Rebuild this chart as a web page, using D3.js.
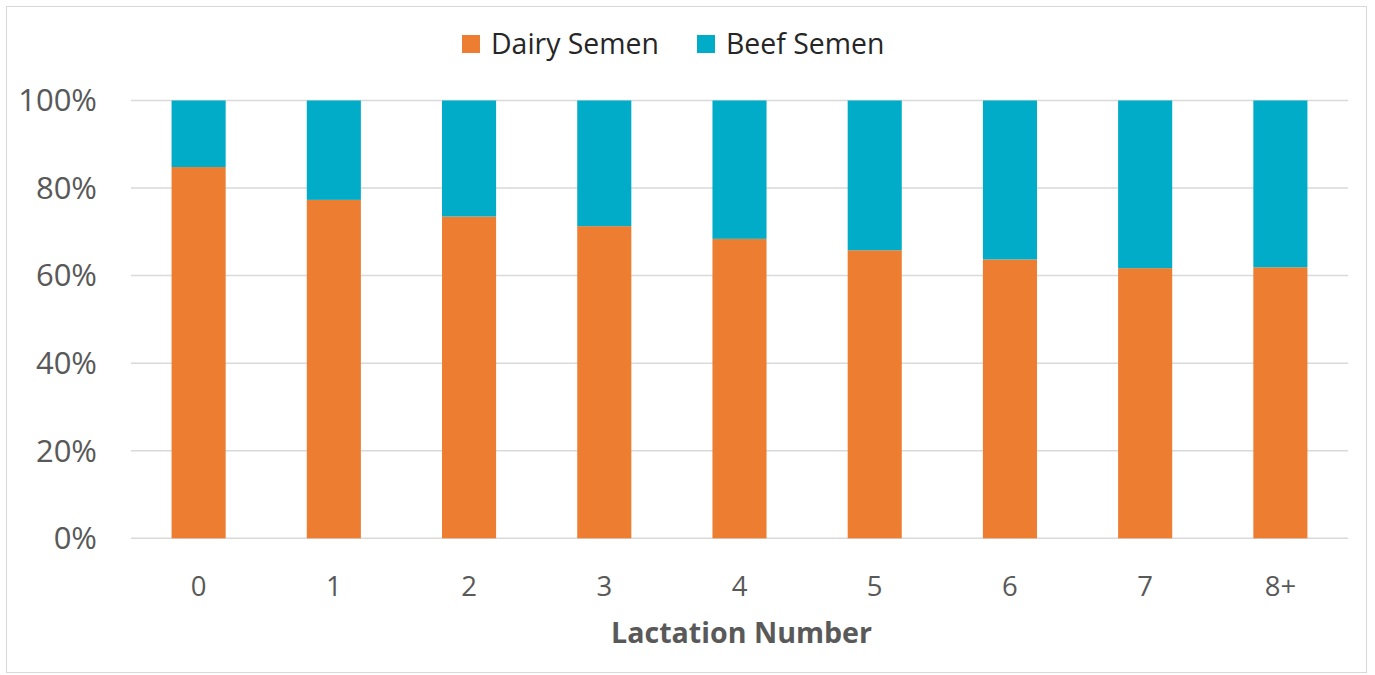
<!DOCTYPE html>
<html>
<head>
<meta charset="utf-8">
<script src="https://cdn.jsdelivr.net/npm/d3@7"></script>
<style>
html,body{margin:0;padding:0;background:#fff;}
svg{display:block;font-family:"Open Sans",sans-serif;}
</style>
</head>
<body>
<svg id="chart" width="1375" height="675"></svg>
<script>
const categories = ["0","1","2","3","4","5","6","7","8+"];
const dairySemen = [84.8, 77.3, 73.5, 71.3, 68.4, 65.8, 63.7, 61.7, 61.9];
const beefSemen = dairySemen.map(d => +(100 - d).toFixed(1));
const seriesNames = ["Dairy Semen", "Beef Semen"];
const seriesColors = ["#ED7D31", "#00ACC8"];
const yTicks = [0, 20, 40, 60, 80, 100];

const svg = d3.select("#chart");
svg.append("rect").attr("x",6.5).attr("y",6.5).attr("width",1360).attr("height",666)
  .attr("fill","#fff").attr("stroke","#d9d9d9").attr("stroke-width",1);

const x = d3.scaleBand().domain(categories).range([131, 1348]).paddingInner(0.6).paddingOuter(0.3);
const y = d3.scaleLinear().domain([0, 100]).range([538.3, 100.5]);

// gridlines
svg.append("g").selectAll("line").data(yTicks).join("line")
  .attr("x1",131).attr("x2",1348)
  .attr("y1",d=>y(d)).attr("y2",d=>y(d))
  .attr("stroke","#d9d9d9").attr("stroke-width",1.5);

// y labels
svg.append("g").selectAll("text").data(yTicks).join("text")
  .attr("x",97).attr("y",d=>y(d)).attr("dy","0.35em")
  .attr("text-anchor","end").attr("font-size",31).attr("fill","#595959")
  .text(d=>d+"%");

// stacked bars
const rows = categories.map((c,i)=>({cat:c, dairy:dairySemen[i], beef:beefSemen[i]}));
const stack = d3.stack().keys(["dairy","beef"])(rows);
svg.append("g").selectAll("g").data(stack).join("g")
  .attr("fill",(d,i)=>seriesColors[i])
  .selectAll("rect").data(d=>d).join("rect")
  .attr("x",d=>x(d.data.cat)).attr("width",x.bandwidth())
  .attr("y",d=>y(d[1])).attr("height",d=>y(d[0])-y(d[1]));

// x labels
svg.append("g").selectAll("text").data(categories).join("text")
  .attr("x",d=>x(d)+x.bandwidth()/2).attr("y",596)
  .attr("text-anchor","middle").attr("font-size",27.5).attr("fill","#595959")
  .text(d=>d);

// x title
svg.append("text").attr("x",(131+1348)/2 + 2).attr("y",643)
  .attr("text-anchor","middle").attr("font-size",28.6).attr("font-weight","bold")
  .attr("fill","#595959").text("Lactation Number");

// legend
const legX = [462, 697];
const leg = svg.append("g").selectAll("g").data(seriesNames).join("g")
  .attr("transform",(d,i)=>`translate(${legX[i]},0)`);
leg.append("rect").attr("x",0).attr("y",35).attr("width",18).attr("height",18)
  .attr("fill",(d,i)=>seriesColors[i]);
leg.append("text").attr("x",29).attr("y",54).attr("font-size",28.4).attr("fill","#262626")
  .text(d=>d);
</script>
</body>
</html>
